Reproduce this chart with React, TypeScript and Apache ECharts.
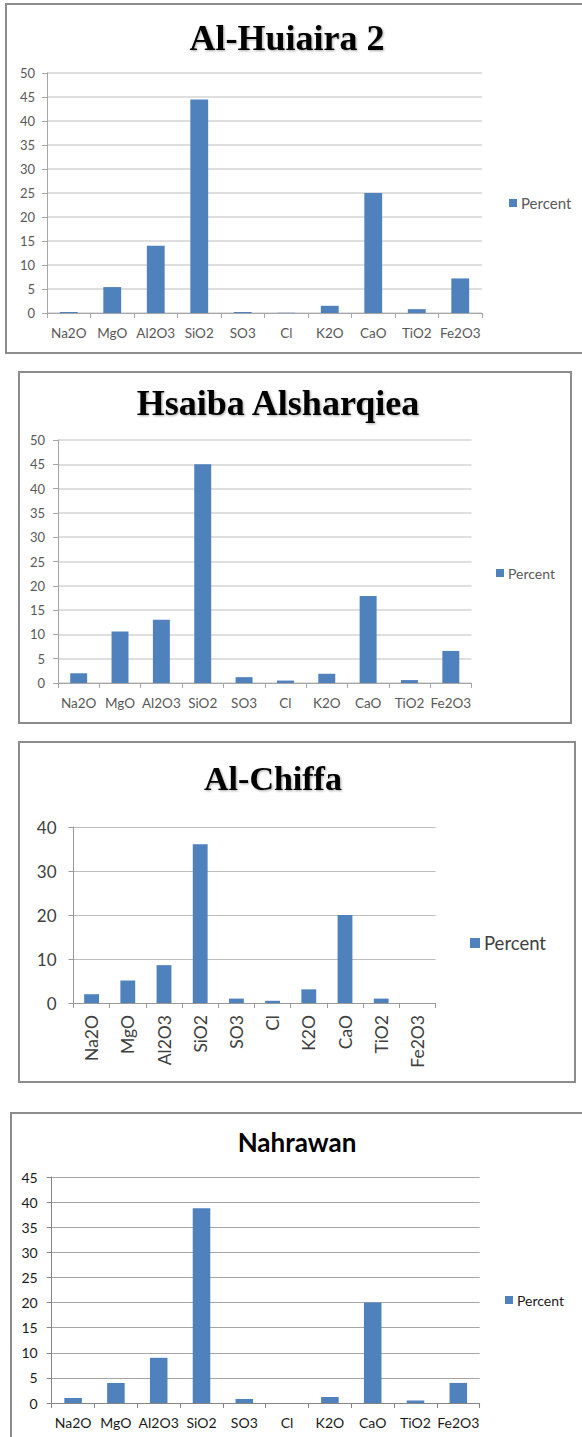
import React, { useEffect, useRef } from 'react';
import * as echarts from 'echarts';

const categories = ['Na2O', 'MgO', 'Al2O3', 'SiO2', 'SO3', 'Cl', 'K2O', 'CaO', 'TiO2', 'Fe2O3'];
const chartTitles = ['Al-Huiaira 2', 'Hsaiba Alsharqiea', 'Al-Chiffa', 'Nahrawan'];
const seriesName = 'Percent';

const alHuiaira2 = [0.2, 5.4, 14, 44.5, 0.2, 0.05, 1.5, 25, 0.8, 7.2];
const hsaibaAlsharqiea = [2, 10.6, 13, 45, 1.2, 0.5, 1.9, 17.9, 0.6, 6.6];
const alChiffa = [2, 5.1, 8.6, 36.1, 1, 0.5, 3.1, 20, 1, 0];
const nahrawan = [1, 4, 9, 38.8, 0.8, 0, 1.2, 20, 0.5, 4];

const yMaxValues = [50, 50, 40, 45];
const yIntervals = [5, 5, 10, 5];

const BAR = '#4F81BD';

const panels = [
  {
    data: alHuiaira2,
    frame: [6, 4, 600, 349],
    grid: { left: 47, top: 73, width: 435, height: 240 },
    title: { x: 287, top: 20, family: 'Liberation Serif', size: 36 },
    legend: { left: 509, cy: 203, icon: 8, size: 15 },
    yFont: 13, xFont: 13.5, yMargin: 12, xMargin: 13, rotate: 0,
    grid1: '#D4D4D4', gridW: 1.5, axis: '#A6A6A6', label: '#595959',
  },
  {
    data: hsaibaAlsharqiea,
    frame: [19, 372, 552, 351],
    grid: { left: 58, top: 440, width: 413.5, height: 243 },
    title: { x: 278, top: 385, family: 'Liberation Serif', size: 36 },
    legend: { left: 496, cy: 573, icon: 8, size: 14 },
    yFont: 13, xFont: 13.5, yMargin: 13, xMargin: 13, rotate: 0,
    grid1: '#D4D4D4', gridW: 1.5, axis: '#A6A6A6', label: '#595959',
  },
  {
    data: alChiffa,
    frame: [19, 742, 556, 340],
    grid: { left: 73.5, top: 827, width: 362, height: 176 },
    title: { x: 273, top: 761.5, family: 'Liberation Serif', size: 34 },
    legend: { left: 470, cy: 943, icon: 10, size: 18.5 },
    yFont: 17, xFont: 17.5, yMargin: 17, xMargin: 12, rotate: 90,
    grid1: '#BDBDBD', gridW: 1.2, axis: '#999999', label: '#404040',
  },
  {
    data: nahrawan,
    frame: [11, 1113, 600, 400],
    grid: { left: 51.7, top: 1177, width: 428, height: 226 },
    title: { x: 297, top: 1129, family: 'Lato', size: 26 },
    legend: { left: 505, cy: 1300, icon: 8, size: 14 },
    yFont: 14, xFont: 14, yMargin: 14, xMargin: 12, rotate: 0,
    grid1: '#A6A6A6', gridW: 1, axis: '#868686', label: '#1a1a1a',
  },
];

export default function App() {
  const ref = useRef<HTMLDivElement>(null);

  useEffect(() => {
    document.body.style.margin = '0';
    if (!ref.current) return;
    const chart = echarts.init(ref.current, undefined, { renderer: 'svg' });

    const option: any = {
      animation: false,
      backgroundColor: '#ffffff',
      title: panels.map((p, i) => ({
        text: chartTitles[i],
        left: p.title.x,
        top: p.title.top,
        textAlign: 'center',
        padding: 0,
        textStyle: {
          fontFamily: p.title.family,
          fontSize: p.title.size,
          fontWeight: 'bold',
          color: '#000000',
          textShadowColor: i < 3 ? 'rgba(0,0,0,0.35)' : 'transparent',
          textShadowBlur: i < 3 ? 2 : 0,
          textShadowOffsetX: i < 3 ? 1 : 0,
          textShadowOffsetY: i < 3 ? 1 : 0,
        },
      })),
      legend: panels.map((p) => ({
        data: [seriesName],
        left: p.legend.left,
        top: p.legend.cy - 10,
        padding: 0,
        icon: 'rect',
        itemWidth: p.legend.icon,
        itemHeight: p.legend.icon,
        itemGap: 5,
        selectedMode: false,
        textStyle: {
          fontFamily: 'Lato',
          fontSize: p.legend.size,
          color: p.label,
          lineHeight: 20,
          padding: [0, 0, 0, -1],
        },
      })),
      grid: panels.map((p) => ({ ...p.grid, containLabel: false })),
      xAxis: panels.map((p, i) => ({
        type: 'category',
        gridIndex: i,
        data: categories,
        boundaryGap: true,
        axisLine: { show: true, lineStyle: { color: p.axis, width: 1 } },
        axisTick: { show: true, length: 5, inside: false, lineStyle: { color: p.axis } },
        splitLine: { show: false },
        axisLabel: {
          interval: 0,
          rotate: p.rotate,
          margin: p.xMargin,
          fontFamily: 'Lato',
          fontSize: p.xFont,
          color: p.label,
        },
      })),
      yAxis: panels.map((p, i) => ({
        type: 'value',
        gridIndex: i,
        min: 0,
        max: yMaxValues[i],
        interval: yIntervals[i],
        axisLine: { show: true, lineStyle: { color: p.axis, width: 1 } },
        axisTick: { show: true, length: 5, inside: false, lineStyle: { color: p.axis } },
        splitLine: { show: true, lineStyle: { color: p.grid1, width: p.gridW } },
        axisLabel: {
          margin: p.yMargin,
          fontFamily: 'Lato',
          fontSize: p.yFont,
          color: p.label,
        },
      })),
      series: panels.map((p, i) => ({
        type: 'bar',
        name: seriesName,
        xAxisIndex: i,
        yAxisIndex: i,
        data: p.data,
        barWidth: '41%',
        itemStyle: { color: BAR },
      })),
      graphic: panels.map((p) => ({
        type: 'rect',
        silent: true,
        z: -1,
        shape: { x: p.frame[0], y: p.frame[1], width: p.frame[2], height: p.frame[3] },
        style: { fill: 'none', stroke: '#8C8C8C', lineWidth: 2 },
      })),
    };

    chart.setOption(option);
    return () => chart.dispose();
  }, []);

  return <div ref={ref} style={{ width: 582, height: 1437 }} />;
}
